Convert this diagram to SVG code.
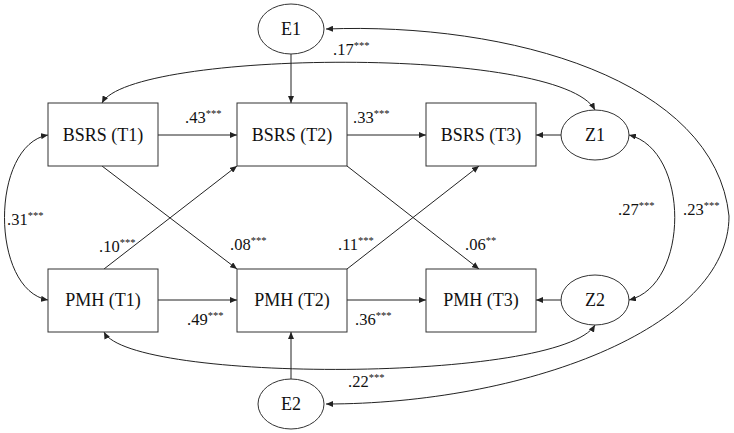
<svg xmlns="http://www.w3.org/2000/svg" width="734" height="433" viewBox="0 0 734 433">
<style>
.box{fill:#fff;stroke:#333;stroke-width:1}
.ell{fill:#fff;stroke:#333;stroke-width:1}
.lbl{font-family:'Liberation Serif','Times New Roman','DejaVu Serif',serif;font-size:18px;fill:#111;text-anchor:middle}
.coef{font-family:'Liberation Serif','Times New Roman','DejaVu Serif',serif;font-size:16.5px;fill:#111}
.sup{font-size:10.5px}
.ln{fill:none;stroke:#222;stroke-width:1;marker-end:url(#ah)}
.dbl{fill:none;stroke:#222;stroke-width:1;marker-start:url(#ahs);marker-end:url(#ah)}
</style>
<defs>
<marker id="ah" markerWidth="7" markerHeight="6" refX="7" refY="3" orient="auto" markerUnits="userSpaceOnUse"><path d="M0,0 L7,3 L0,6 Z" fill="#222"/></marker>
<marker id="ahs" markerWidth="7" markerHeight="6" refX="0" refY="3" orient="auto" markerUnits="userSpaceOnUse"><path d="M7,0 L0,3 L7,6 Z" fill="#222"/></marker>
</defs>
<rect width="734" height="433" fill="#fff"/>
<g id="connectors">
<line class="ln" x1="158" y1="135" x2="237" y2="135"/>
<line class="ln" x1="347" y1="135" x2="426" y2="135"/>
<line class="ln" x1="561" y1="135" x2="536" y2="135"/>
<line class="ln" x1="291" y1="54" x2="291" y2="103"/>
<line class="ln" x1="158" y1="300" x2="237" y2="300"/>
<line class="ln" x1="347" y1="300" x2="426" y2="300"/>
<line class="ln" x1="561" y1="300" x2="536" y2="300"/>
<line class="ln" x1="291" y1="379" x2="291" y2="332"/>
<line class="ln" x1="102" y1="166" x2="237" y2="269"/>
<line class="ln" x1="104" y1="269" x2="237" y2="166"/>
<line class="ln" x1="347" y1="166" x2="479" y2="269"/>
<line class="ln" x1="347" y1="269" x2="479" y2="166"/>
<path class="dbl" d="M102,103 C130,50 560,45 595,110"/>
<path class="dbl" d="M326,29 C510,22 715,80 729,216 C729,330 520,404 326,404"/>
<path class="dbl" d="M629,135 C690,150 690,285 629,300"/>
<path class="dbl" d="M48,135 C-10,145 -10,290 48,300"/>
<path class="dbl" d="M104,332 C130,383 560,383 595,325"/>
</g>
<g id="bsrs_t1"><rect class="box" x="48" y="103" width="110" height="63"/><text class="lbl" x="103" y="141">BSRS (T1)</text></g>
<g id="bsrs_t2"><rect class="box" x="237" y="103" width="110" height="63"/><text class="lbl" x="292" y="141">BSRS (T2)</text></g>
<g id="bsrs_t3"><rect class="box" x="426" y="103" width="110" height="63"/><text class="lbl" x="481" y="141">BSRS (T3)</text></g>
<g id="pmh_t1"><rect class="box" x="48" y="269" width="110" height="63"/><text class="lbl" x="103" y="306">PMH (T1)</text></g>
<g id="pmh_t2"><rect class="box" x="237" y="269" width="110" height="63"/><text class="lbl" x="292" y="306">PMH (T2)</text></g>
<g id="pmh_t3"><rect class="box" x="426" y="269" width="110" height="63"/><text class="lbl" x="481" y="306">PMH (T3)</text></g>
<g id="e1"><ellipse class="ell" cx="291" cy="29" rx="33" ry="25"/><text class="lbl" x="291" y="35">E1</text></g>
<g id="e2"><ellipse class="ell" cx="291" cy="404" rx="33" ry="25"/><text class="lbl" x="291" y="410">E2</text></g>
<g id="z1"><ellipse class="ell" cx="595" cy="135" rx="34" ry="25"/><text class="lbl" x="595" y="141">Z1</text></g>
<g id="z2"><ellipse class="ell" cx="595" cy="300" rx="34" ry="25"/><text class="lbl" x="595" y="306">Z2</text></g>
<g id="labels">
<text class="coef" x="185" y="123">.43<tspan class="sup" dy="-6">***</tspan></text>
<text class="coef" x="353" y="123">.33<tspan class="sup" dy="-6">***</tspan></text>
<text class="coef" x="333" y="55">.17<tspan class="sup" dy="-6">***</tspan></text>
<text class="coef" x="7" y="225">.31<tspan class="sup" dy="-6">***</tspan></text>
<text class="coef" x="99" y="252">.10<tspan class="sup" dy="-6">***</tspan></text>
<text class="coef" x="230" y="250">.08<tspan class="sup" dy="-6">***</tspan></text>
<text class="coef" x="338" y="250">.11<tspan class="sup" dy="-6">***</tspan></text>
<text class="coef" x="465" y="250">.06<tspan class="sup" dy="-6">**</tspan></text>
<text class="coef" x="618" y="215">.27<tspan class="sup" dy="-6">***</tspan></text>
<text class="coef" x="683" y="215">.23<tspan class="sup" dy="-6">***</tspan></text>
<text class="coef" x="187" y="325">.49<tspan class="sup" dy="-6">***</tspan></text>
<text class="coef" x="355" y="325">.36<tspan class="sup" dy="-6">***</tspan></text>
<text class="coef" x="348" y="387">.22<tspan class="sup" dy="-6">***</tspan></text>
</g>
</svg>
